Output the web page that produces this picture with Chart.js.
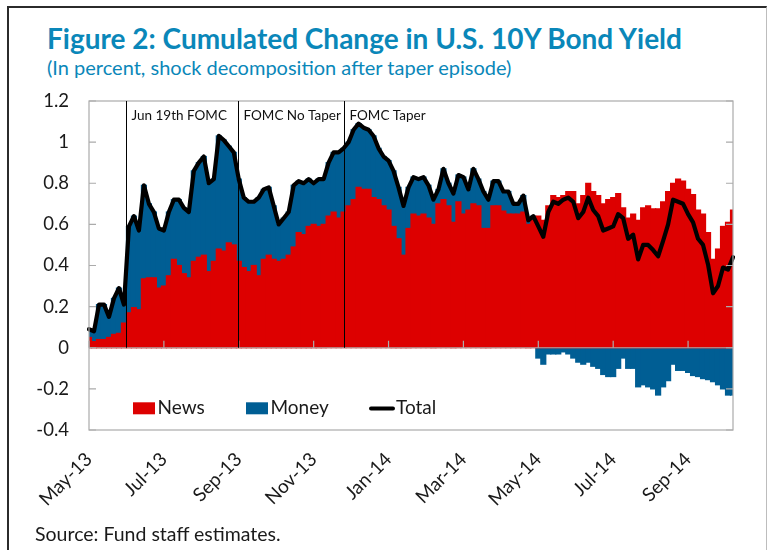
<!DOCTYPE html>
<html><head><meta charset="utf-8">
<script src="https://cdn.jsdelivr.net/npm/chart.js@4.4.0/dist/chart.umd.min.js"></script>
<style>
html,body{margin:0;padding:0;background:#fff;}
body{width:770px;height:550px;position:relative;overflow:hidden;font-family:Lato,'Open Sans',sans-serif;}
#frame{position:absolute;left:7px;top:6px;width:760px;height:570px;border-top:2px solid #2b2b2b;border-left:2px solid #2b2b2b;border-right:1px solid #bdbdbd;box-sizing:border-box;}
#title{position:absolute;left:47px;top:22px;font-size:28px;font-weight:700;color:#0A87B9;line-height:1.2;white-space:nowrap;}
#subtitle{position:absolute;left:47px;top:55px;font-size:20px;color:#0A87B9;line-height:1.2;white-space:nowrap;}
#source{position:absolute;left:35px;top:522px;font-size:19.5px;color:#1a1a1a;line-height:1.2;white-space:nowrap;}
#wrap{position:absolute;left:0;top:0;width:770px;height:550px;}
</style></head>
<body>
<div id="frame"></div>
<div id="title">Figure 2: Cumulated Change in U.S. 10Y Bond Yield</div>
<div id="subtitle">(In percent, shock decomposition after taper episode)</div>
<div id="wrap"><canvas id="c" width="770" height="550"></canvas></div>
<div id="source">Source: Fund staff estimates.</div>
<script>
const xTickLabels = ['May-13','Jul-13','Sep-13','Nov-13','Jan-14','Mar-14','May-14','Jul-14','Sep-14'];
const labelEvery = 15;
const yTickLabels = ['-0.4','-0.2','0','0.2','0.4','0.6','0.8','1','1.2'];
const eventNames = ['Jun 19th FOMC','FOMC No Taper','FOMC Taper'];
const eventAt = [7.4, 29.9, 51.0];
const seriesNames = ['News','Money','Total'];

const news = [
 0.05,0.03,0.04,0.04,0.05,0.065,0.07,0.12,0.17,0.195,
 0.185,0.335,0.34,0.34,0.29,0.30,0.35,0.43,0.40,0.36,
 0.34,0.42,0.44,0.45,0.37,0.42,0.48,0.47,0.51,0.50,
 0.42,0.39,0.37,0.40,0.35,0.43,0.45,0.43,0.42,0.43,
 0.45,0.49,0.56,0.55,0.59,0.60,0.59,0.60,0.64,0.66,
 0.63,0.66,0.69,0.72,0.78,0.77,0.77,0.73,0.72,0.69,
 0.67,0.59,0.53,0.45,0.58,0.65,0.64,0.65,0.63,0.60,
 0.70,0.72,0.69,0.61,0.71,0.65,0.67,0.70,0.69,0.58,
 0.58,0.69,0.69,0.665,0.65,0.65,0.65,0.66,0.60,0.62,
 0.64,0.62,0.69,0.74,0.73,0.74,0.76,0.76,0.70,0.74,
 0.80,0.76,0.74,0.70,0.72,0.73,0.75,0.68,0.63,0.65,
 0.62,0.68,0.69,0.675,0.675,0.71,0.76,0.80,0.82,0.81,
 0.77,0.745,0.67,0.65,0.56,0.43,0.48,0.59,0.61,0.67
];
const money = [
 0.04,0.05,0.17,0.17,0.10,0.175,0.22,0.09,0.42,0.445,
 0.385,0.455,0.36,0.32,0.29,0.27,0.31,0.29,0.32,0.32,
 0.32,0.44,0.46,0.48,0.43,0.40,0.55,0.54,0.47,0.45,
 0.40,0.34,0.34,0.31,0.38,0.34,0.33,0.26,0.18,0.20,
 0.21,0.30,0.25,0.25,0.23,0.20,0.23,0.22,0.26,0.29,
 0.32,0.31,0.31,0.34,0.31,0.30,0.29,0.30,0.25,0.24,
 0.24,0.27,0.25,0.24,0.20,0.18,0.18,0.18,0.16,0.12,
 0.07,0.15,0.11,0.14,0.13,0.18,0.10,0.17,0.13,0.18,
 0.14,0.12,0.12,0.095,0.11,0.05,0.05,0.08,0.02,0.02,
 -0.05,-0.08,-0.03,-0.03,-0.03,-0.02,-0.03,-0.05,-0.07,-0.08,
 -0.07,-0.09,-0.10,-0.13,-0.14,-0.14,-0.10,-0.05,-0.10,-0.10,
 -0.19,-0.18,-0.19,-0.20,-0.23,-0.19,-0.16,-0.08,-0.11,-0.11,
 -0.12,-0.135,-0.14,-0.15,-0.155,-0.165,-0.18,-0.20,-0.23,-0.23
];
const total = [
 0.09,0.08,0.21,0.21,0.15,0.24,0.29,0.21,0.59,0.64,
 0.57,0.79,0.70,0.66,0.58,0.57,0.66,0.72,0.72,0.68,
 0.66,0.86,0.90,0.93,0.80,0.82,1.03,1.01,0.98,0.95,
 0.82,0.73,0.71,0.71,0.73,0.77,0.78,0.69,0.60,0.63,
 0.66,0.79,0.81,0.80,0.82,0.80,0.82,0.82,0.90,0.95,
 0.95,0.97,1.00,1.06,1.09,1.07,1.06,1.03,0.97,0.93,
 0.91,0.86,0.78,0.69,0.78,0.83,0.82,0.83,0.79,0.72,
 0.77,0.87,0.80,0.75,0.84,0.83,0.77,0.87,0.82,0.76,
 0.72,0.81,0.81,0.76,0.76,0.70,0.70,0.74,0.62,0.64,
 0.59,0.54,0.66,0.71,0.70,0.72,0.73,0.71,0.63,0.66,
 0.73,0.67,0.64,0.57,0.58,0.59,0.65,0.63,0.53,0.55,
 0.43,0.50,0.50,0.475,0.445,0.52,0.60,0.72,0.71,0.70,
 0.65,0.61,0.53,0.50,0.405,0.265,0.30,0.39,0.38,0.44
];

const categories = news.map((_, i) => (i % labelEvery === 0 ? (xTickLabels[i / labelEvery] || '') : ''));

const RED = '#DD0000', BLUE = '#005E94', FRAME = '#ababab', TXT = '#1a1a1a';
Chart.defaults.font.family = 'Lato, "Open Sans", sans-serif';

const deco = {
  id: 'deco',
  afterDatasetsDraw(chart) {
    const { ctx, chartArea: a, scales: { x, y } } = chart;
    const y0 = y.getPixelForValue(0);
    ctx.save();
    ctx.strokeStyle = FRAME; ctx.lineWidth = 1.2;
    ctx.strokeRect(a.left, a.top, a.right - a.left, a.bottom - a.top);
    ctx.beginPath(); ctx.moveTo(a.left, y0); ctx.lineTo(a.right, y0); ctx.stroke();
    ctx.beginPath();
    y.ticks.forEach(t => {
      const py = y.getPixelForValue(t.value);
      ctx.moveTo(a.left, py); ctx.lineTo(a.left + 7, py);
      ctx.moveTo(a.right, py); ctx.lineTo(a.right - 7, py);
    });
    categories.forEach((c, i) => {
      if (c) { const px = x.getPixelForValue(i); ctx.moveTo(px, y0); ctx.lineTo(px, y0 - 7); }
    });
    ctx.stroke();
    ctx.strokeStyle = '#000'; ctx.lineWidth = 1; ctx.fillStyle = '#111';
    ctx.font = '13.5px Lato, "Open Sans", sans-serif';
    ctx.textBaseline = 'alphabetic'; ctx.textAlign = 'left';
    eventAt.forEach((v, k) => {
      const px = Math.round(x.getPixelForValue(v)) + 0.5;
      ctx.beginPath(); ctx.moveTo(px, a.top); ctx.lineTo(px, y0); ctx.stroke();
      ctx.fillText(eventNames[k], px + 5, a.top + 18.5);
    });
    ctx.restore();
  },
  afterDraw(chart) {
    const { ctx, chartArea: a } = chart;
    const offs = [44, 157, 281];
    ctx.save();
    ctx.font = '19px Lato, "Open Sans", sans-serif';
    ctx.fillStyle = TXT; ctx.textBaseline = 'alphabetic';
    chart.data.datasets.forEach((ds, k) => {
      const lx = a.left + offs[k];
      const base = a.bottom - 15.7;
      if (ds.type === 'line') {
        ctx.strokeStyle = ds.borderColor; ctx.lineWidth = 4; ctx.lineCap = 'round';
        ctx.beginPath(); ctx.moveTo(lx + 1, a.bottom - 21.5); ctx.lineTo(lx + 23, a.bottom - 21.5); ctx.stroke();
        ctx.fillStyle = TXT; ctx.fillText(ds.label, lx + 26, base);
      } else {
        ctx.fillStyle = ds.backgroundColor; ctx.fillRect(lx, a.bottom - 27.7, 22, 12);
        ctx.fillStyle = TXT; ctx.fillText(ds.label, lx + 24.5, base);
      }
    });
    ctx.restore();
  }
};

new Chart(document.getElementById('c'), {
  data: {
    labels: categories,
    datasets: [
      { type: 'bar', label: seriesNames[0], data: news, backgroundColor: RED, stack: 'parts', order: 1,
        barPercentage: 1, categoryPercentage: 1, borderWidth: 0, inflateAmount: 0.6 },
      { type: 'bar', label: seriesNames[1], data: money, backgroundColor: BLUE, stack: 'parts', order: 1,
        barPercentage: 1, categoryPercentage: 1, borderWidth: 0, inflateAmount: 0.6 },
      { type: 'line', label: seriesNames[2], data: total, borderColor: '#000', borderWidth: 4.2, stack: 'sum',
        order: 0, pointRadius: 0, fill: false, tension: 0, borderJoinStyle: 'round', borderCapStyle: 'round' }
    ]
  },
  options: {
    responsive: false, animation: false,
    layout: { padding: { left: 29, top: 101, right: 37, bottom: 30 } },
    plugins: { legend: { display: false }, tooltip: { enabled: false } },
    scales: {
      x: {
        type: 'category', offset: false, stacked: true,
        grid: { display: false, drawTicks: false }, border: { display: false },
        ticks: { autoSkip: false, maxRotation: 45, minRotation: 45, padding: 18, color: TXT,
          font: { size: 19 },
          callback(v) { const l = this.getLabelForValue(v); return l ? l : null; } },
        afterFit(s) { s.height = 90; }
      },
      y: {
        stacked: true, min: -0.4, max: 1.2,
        grid: { display: false, drawTicks: false }, border: { display: false },
        ticks: { stepSize: 0.2, padding: 20, color: TXT, font: { size: 18.5 },
          callback: (v, i) => yTickLabels[i] },
        afterFit(s) { s.width = 60; }
      }
    }
  },
  plugins: [deco]
});
</script>
</body></html>
